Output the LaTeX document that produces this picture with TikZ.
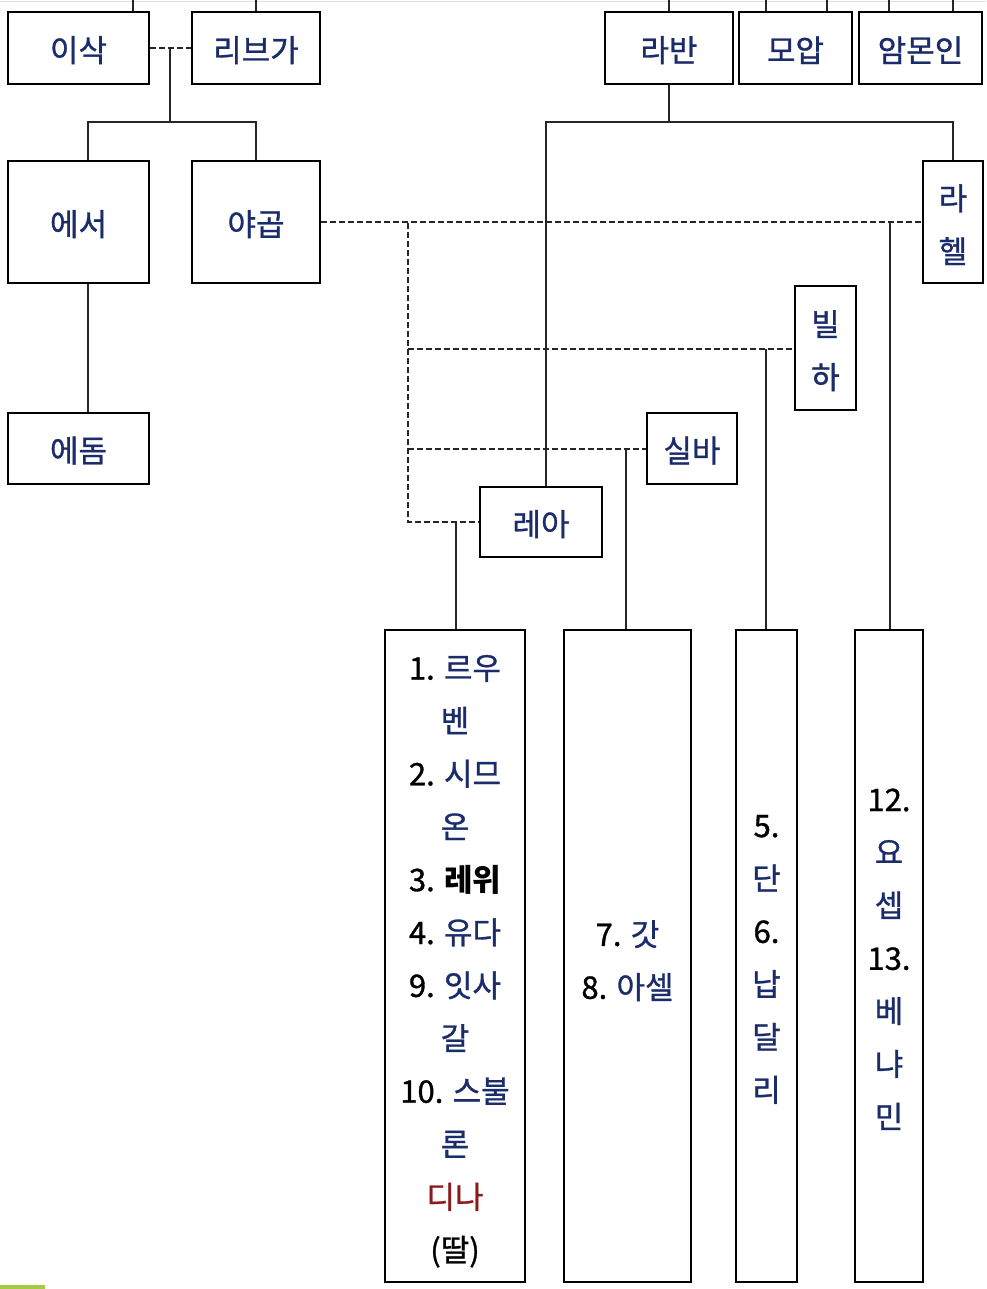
\documentclass[tikz,border=0pt]{standalone}
\usepackage{fontspec}
\setmainfont{Noto Sans CJK KR}[UprightFeatures={FakeBold=1.0}]
\definecolor{navy}{HTML}{1B2C6B}
\definecolor{darkred}{HTML}{8B1A1A}
\definecolor{lime}{HTML}{A4CC3C}
\newcommand{\firstln}[1]{\rule{0pt}{#1pt}}
\begin{document}
\begin{tikzpicture}[x=1pt,y=-1pt,
  box/.style={draw=black, line width=2.6pt, inner sep=0pt, fill=white,
    font=\fontsize{31}{52.9}\selectfont, text=navy, align=center},
  sbox/.style={box, execute at begin node={\rule{0pt}{30pt}}},
  conn/.style={line width=1.3pt, black!85},
  dline/.style={line width=1.3pt, black!85, dash pattern=on 6pt off 3pt}]
\useasboundingbox (0,0) rectangle (986,1289);
\draw[gray!25, line width=1pt] (0,1.5) -- (986,1.5);
\fill[lime] (0,1285) rectangle (45,1289);

% parents
\node[sbox, minimum width=141pt, minimum height=72pt] (isaac) at (78.5,48) {이삭};
\node[sbox, minimum width=128pt, minimum height=72pt] (rebekah) at (256,48) {리브가};
\node[sbox, minimum width=128pt, minimum height=72pt] (laban) at (669,48) {라반};
\node[sbox, minimum width=113pt, minimum height=72pt] (moab) at (795.5,48) {모압};
\node[sbox, minimum width=123pt, minimum height=72pt] (ammon) at (920.5,48) {암몬인};
\node[sbox, minimum width=141pt, minimum height=122pt] (esau) at (78.5,222) {에서};
\node[sbox, minimum width=128pt, minimum height=122pt] (jacob) at (256,222) {야곱};
\node[box, minimum width=60pt, minimum height=122pt] (rachel) at (953,222) {\firstln{31}라\\헬};
\node[box, minimum width=61pt, minimum height=124pt] (bilhah) at (825.5,348) {\firstln{31}빌\\하};
\node[sbox, minimum width=90pt, minimum height=71pt] (zilpah) at (692,448.5) {실바};
\node[sbox, minimum width=122pt, minimum height=70pt] (leah) at (541,522) {레아};
\node[sbox, minimum width=141pt, minimum height=71pt] (edom) at (78.5,448.5) {에돔};

% children
\node[box, minimum width=140pt, minimum height=652pt] (c1) at (455,956)
  {\firstln{35}{\color{black}1.} 르우\\벤\\{\color{black}2.} 시므\\온\\{\color{black}3. \bfseries 레위}\\{\color{black}4.} 유다\\{\color{black}9.} 잇사\\갈\\{\color{black}10.} 스불\\론\\{\color{darkred}디나}\\{\color{black}(딸)}};
\node[box, minimum width=127pt, minimum height=652pt] (c2) at (627.5,956)
  {\firstln{35}{\color{black}7.} 갓\\{\color{black}8.} 아셀};
\node[box, minimum width=61pt, minimum height=652pt] (c3) at (766.5,956)
  {\firstln{29}{\color{black}5.}\\단\\{\color{black}6.}\\납\\달\\리};
\node[box, minimum width=68pt, minimum height=652pt] (c4) at (889,956)
  {\firstln{29}{\color{black}12.}\\요\\셉\\{\color{black}13.}\\베\\냐\\민};

% top ticks
\foreach \x/\n in {133/isaac,256/rebekah,669/laban,766/moab,827/moab,889/ammon,953/ammon}{
  \coordinate (t) at (\x,0);
  \draw[conn] (t) -- (t |- \n.north);
}

% Isaac & Rebekah
\draw[dline] (isaac) -- (rebekah);
\coordinate (ir) at (170,49);
\coordinate (ibar) at (170,122);
\coordinate (eb) at (88,122);
\coordinate (jb) at (256,122);
\draw[conn] (ir) -- (ibar);
\draw[conn] (esau.north -| eb) -- (eb) -- (jb) -- (jacob.north);
\draw[conn] (esau.south -| eb) -- (edom.north -| eb);

% Laban
\coordinate (lb) at (669,122);
\coordinate (lleft) at (546,122);
\coordinate (lright) at (953,122);
\draw[conn] (laban.south) -- (lb);
\draw[conn] (leah.north -| lleft) -- (lleft) -- (lright) -- (rachel.north);

% Jacob marriages
\draw[dline] (jacob.east) -- (rachel.west);
\coordinate (dv) at (408,223);
\coordinate (dvbil) at (408,349);
\coordinate (dvzil) at (408,449);
\coordinate (dvb) at (408,522);
\draw[dline] (dv) -- (dvb) -- (leah.west);
\draw[dline] (dvbil) -- (bilhah.west |- dvbil);
\draw[dline] (dvzil) -- (zilpah.west |- dvzil);

% children lines
\coordinate (k1) at (456,522);
\coordinate (k2) at (626,449);
\coordinate (k3) at (766,349);
\coordinate (k4) at (890,223);
\draw[conn] (k1) -- (k1 |- c1.north);
\draw[conn] (k2) -- (k2 |- c2.north);
\draw[conn] (k3) -- (k3 |- c3.north);
\draw[conn] (k4) -- (k4 |- c4.north);
\end{tikzpicture}
\end{document}
